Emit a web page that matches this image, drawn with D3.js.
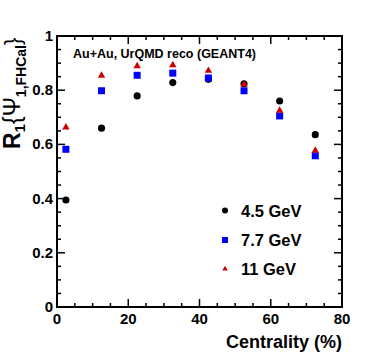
<!DOCTYPE html>
<html>
<head>
<meta charset="utf-8">
<script src="https://cdn.jsdelivr.net/npm/d3@7"></script>
<style>
body { margin: 0; background: #fff; }
text { font-family: "Liberation Sans", Arial, sans-serif; font-weight: bold; fill: #000; }
</style>
</head>
<body>
<div id="chart"></div>
<script>
// centrality bin centres (%)
var centrality = [2.5, 12.5, 22.5, 32.5, 42.5, 52.5, 62.5, 72.5];

// R1{Psi_1,FHCal} per energy
var r45 = [0.395, 0.660, 0.779, 0.828, 0.840, 0.824, 0.760, 0.636];
var r77 = [0.582, 0.798, 0.855, 0.863, 0.845, 0.798, 0.705, 0.558];
var r11 = [0.663, 0.854, 0.889, 0.893, 0.872, 0.822, 0.725, 0.577];

var seriesNames = ['4.5 GeV', '7.7 GeV', '11 GeV'];
var xTicks = [0, 20, 40, 60, 80];
var yTicks = [0, 0.2, 0.4, 0.6, 0.8, 1];

var width = 382, height = 363;
var margin = {top: 36, right: 40, bottom: 56, left: 57};
var viewWidth  = width - margin.left - margin.right,
	viewHeight = height - margin.top - margin.bottom;

var svg = d3.select('#chart').append('svg')
	.attr('width', width)
	.attr('height', height);

var vis = svg.append('g')
	.attr('transform', 'translate(' + margin.left + ',' + margin.top + ')');

var xScale = d3.scaleLinear().domain([0, 80]).range([0, viewWidth]);
var yScale = d3.scaleLinear().domain([0, 1]).range([viewHeight, 0]);

var majorLen = 8, minorLen = 4;

// ticks on all four sides (ROOT style, pointing inwards)
function xTickLines(ticks, len) {
	var g = vis.append('g').attr('class', 'xticks');
	ticks.forEach(function(t) {
		var x = xScale(t);
		g.append('line').attr('x1', x).attr('x2', x).attr('y1', viewHeight).attr('y2', viewHeight - len);
		g.append('line').attr('x1', x).attr('x2', x).attr('y1', 0).attr('y2', len);
	});
	g.selectAll('line').attr('stroke', '#000').attr('stroke-width', 1.5);
}
function yTickLines(ticks, len) {
	var g = vis.append('g').attr('class', 'yticks');
	ticks.forEach(function(t) {
		var y = yScale(t);
		g.append('line').attr('x1', 0).attr('x2', len).attr('y1', y).attr('y2', y);
		g.append('line').attr('x1', viewWidth).attr('x2', viewWidth - len).attr('y1', y).attr('y2', y);
	});
	g.selectAll('line').attr('stroke', '#000').attr('stroke-width', 1.5);
}

xTickLines(d3.range(0, 80.01, 5).filter(function(v) { return v % 20 !== 0; }), minorLen);
xTickLines(xTicks, majorLen);
yTickLines(d3.range(0, 1.001, 0.05).filter(function(v) { return Math.abs(v * 5 - Math.round(v * 5)) > 1e-6; }), minorLen);
yTickLines(yTicks, majorLen);

// frame
vis.append('rect')
	.attr('width', viewWidth)
	.attr('height', viewHeight)
	.attr('fill', 'none')
	.attr('stroke', '#000')
	.attr('stroke-width', 2);

// tick labels
vis.append('g').selectAll('text')
	.data(xTicks)
	.enter().append('text')
	.attr('x', function(d) { return xScale(d); })
	.attr('y', viewHeight + 17)
	.attr('text-anchor', 'middle')
	.style('font-size', '15px')
	.text(function(d) { return d; });

vis.append('g').selectAll('text')
	.data(yTicks)
	.enter().append('text')
	.attr('x', -4)
	.attr('y', function(d) { return yScale(d) + 5; })
	.attr('text-anchor', 'end')
	.style('font-size', '15px')
	.text(function(d) { return d3.format('')(d); });

// axis titles
svg.append('text')
	.attr('x', margin.left + viewWidth)
	.attr('y', 348)
	.attr('text-anchor', 'end')
	.style('font-size', '18px')
	.text('Centrality (%)');

var ytitle = svg.append('text')
	.attr('transform', 'translate(20,149) rotate(-90)')
	.style('font-size', '23px');
ytitle.append('tspan').text('R');
ytitle.append('tspan').attr('dy', 5).style('font-size', '15px').text('1');
ytitle.append('tspan').attr('dy', -5).style('font-weight', 'normal').text('{\u03A8');
ytitle.append('tspan').attr('dy', 6).style('font-size', '14px').text('1,FHCal');
ytitle.append('tspan').attr('dy', -6).style('font-weight', 'normal').style('font-size', '22px').text('}');

// annotation
svg.append('text')
	.attr('x', 73)
	.attr('y', 58)
	.style('font-size', '12.5px')
	.text('Au+Au, UrQMD reco (GEANT4)');

// markers
var colors = ['#000000', '#0000ff', '#cc0000'];
var symbols = [d3.symbolCircle, d3.symbolSquare, d3.symbolTriangle];
var symSizes = [40, 49, 24];
var legendSizes = [28, 36, 13];
var allSeries = [r45, r77, r11];

allSeries.forEach(function(vals, s) {
	var sym = d3.symbol().type(symbols[s]).size(symSizes[s]);
	vis.append('g').selectAll('path')
		.data(vals)
		.enter().append('path')
		.attr('transform', function(d, i) { return 'translate(' + xScale(centrality[i]) + ',' + yScale(d) + ')'; })
		.attr('d', sym)
		.attr('fill', colors[s]);
});

// legend
var legendY = [210.5, 240, 269];
seriesNames.forEach(function(name, s) {
	var sym = d3.symbol().type(symbols[s]).size(legendSizes[s]);
	svg.append('path')
		.attr('transform', 'translate(225,' + legendY[s] + ')')
		.attr('d', sym)
		.attr('fill', colors[s]);
	svg.append('text')
		.attr('x', 241)
		.attr('y', legendY[s] + 6)
		.style('font-size', '16.5px')
		.text(name);
});
</script>
</body>
</html>
